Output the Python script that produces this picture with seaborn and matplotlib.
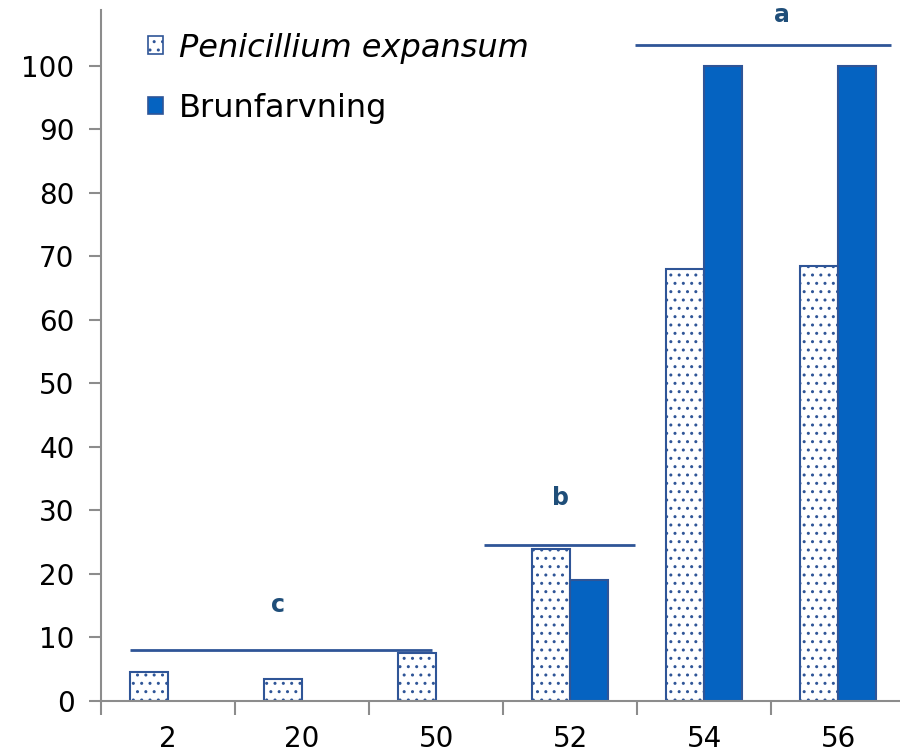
import pandas as pd
import seaborn as sns
import matplotlib.pyplot as plt

# Data
categories = ['2', '20', '50', '52', '54', '56']
penicillium = [4.5, 3.5, 7.5, 24, 68, 68.5]
brunfarvning = [0, 0, 0, 19, 100, 100]
series_names = ['Penicillium expansum', 'Brunfarvning']

# significance groups: letter, y of line, x-range (category positions)
sig_letters = ['c', 'b', 'a']
sig_levels = [8, 24.6, 103.3]
sig_x0 = [-0.28, 2.36, 3.48]
sig_x1 = [1.97, 3.48, 5.39]
sig_text_x = [0.82, 2.93, 4.58]
sig_text_y = [15.1, 32, 108]

df = pd.DataFrame({
    'Kategori': categories * 2,
    'Serie': [series_names[0]] * len(categories) + [series_names[1]] * len(categories),
    'Procent': penicillium + brunfarvning,
})

sns.set_style('white')
plt.rcParams['font.family'] = ['DejaVu Sans']
plt.rcParams['text.color'] = 'black'
plt.rcParams['xtick.color'] = 'black'
plt.rcParams['ytick.color'] = 'black'

fill_blue = '#0563C1'
edge_blue = '#2F5597'
dark_blue = '#1F4E79'
axis_grey = '#8c8c8c'

fig = plt.figure(figsize=(9, 7.55), dpi=100)
ax = fig.add_axes([101 / 900, 1 - 701 / 755, 799 / 900, 691 / 755])

sns.barplot(data=df, x='Kategori', y='Procent', hue='Serie', order=categories,
            hue_order=series_names, width=0.567, palette=['white', fill_blue],
            saturation=1, ax=ax, legend=False)

n = len(categories)
for i, p in enumerate(ax.patches):
    p.set_edgecolor(edge_blue)
    p.set_linewidth(1.5)
    if i < n:
        p.set_hatch('..')
    if p.get_height() == 0:
        p.set_visible(False)

for x0, x1, lv in zip(sig_x0, sig_x1, sig_levels):
    ax.plot([x0, x1], [lv, lv], color=edge_blue, lw=2, solid_capstyle='butt')
for lt, tx, ty in zip(sig_letters, sig_text_x, sig_text_y):
    ax.text(tx, ty, lt, ha='center', va='center', fontsize=17, fontweight='bold', color=dark_blue)

ax.set_ylim(0, 108.8)
ax.set_xlim(-0.5, 5.46)
ax.set_yticks(range(0, 101, 10))
ax.set_xticks(range(n))
ax.set_xticklabels(categories)
ax.tick_params(axis='y', labelsize=20, length=9, width=1.5, color=axis_grey, labelcolor='black',
               left=True, pad=10)
ax.tick_params(axis='x', labelsize=20, length=0, labelcolor='black', pad=17)
# category boundary ticks
ax.set_xticks([i - 0.5 for i in range(n)], minor=True)
ax.tick_params(axis='x', which='minor', length=10, width=1.5, color=axis_grey, bottom=True)
ax.set_xlabel('')
ax.set_ylabel('')
for side in ['top', 'right']:
    ax.spines[side].set_visible(False)
for side in ['left', 'bottom']:
    ax.spines[side].set_color(axis_grey)
    ax.spines[side].set_linewidth(1.5)

h0 = plt.Rectangle((0, 0), 1, 1, facecolor='white', edgecolor=edge_blue, hatch='..', lw=1.2)
h1 = plt.Rectangle((0, 0), 1, 1, facecolor=fill_blue, edgecolor=edge_blue, lw=1.2)
leg = ax.legend([h0, h1], series_names, loc='upper left', bbox_to_anchor=(0.0225, 1.009),
                frameon=False, fontsize=23, handlelength=0.47, handleheight=0.47,
                handletextpad=0.5, labelspacing=0.92)
for t in leg.get_texts():
    t.set_color('black')
leg.get_texts()[0].set_fontstyle('italic')

fig.savefig('out.png', dpi=100)
